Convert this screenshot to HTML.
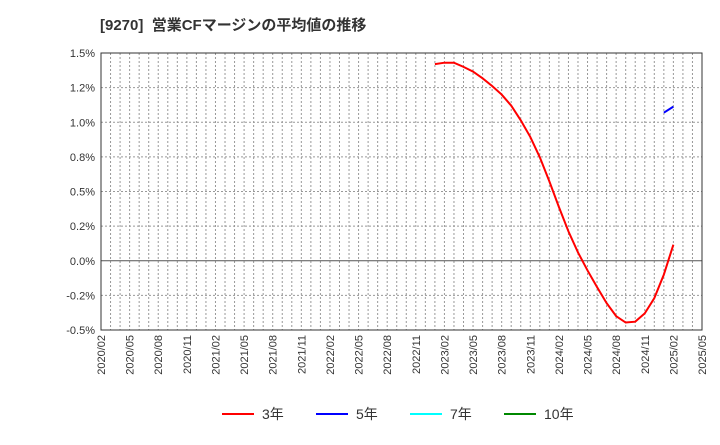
<!DOCTYPE html>
<html><head><meta charset="utf-8"><style>
body{margin:0;background:#fff;font-family:"Liberation Sans","Noto Sans CJK JP",sans-serif}
svg text{font-family:"Liberation Sans","Noto Sans CJK JP",sans-serif}
</style></head><body>
<svg id="c" width="720" height="440">
<text x="100" y="30" font-size="15" font-weight="bold" fill="#333">[9270]&#160;&#160;営業CFマージンの平均値の推移</text>
<g id="grid"></g><g id="axes"></g><g id="series"></g>
<g id="legend"></g>
</svg>
<script>
const yTicks=[-0.5,-0.25,0,0.25,0.5,0.75,1.0,1.25,1.5];
const yTickLabels=["-0.5%","-0.2%","0.0%","0.2%","0.5%","0.8%","1.0%","1.2%","1.5%"];
const xTickLabels=["2020/02","2020/05","2020/08","2020/11","2021/02","2021/05","2021/08","2021/11","2022/02","2022/05","2022/08","2022/11","2023/02","2023/05","2023/08","2023/11","2024/02","2024/05","2024/08","2024/11","2025/02","2025/05"];
const months3=[35,36,37,38,39,40,41,42,43,44,45,46,47,48,49,50,51,52,53,54,55,56,57,58,59,60];
const values3=[1.42,1.43,1.43,1.40,1.366,1.317,1.262,1.20,1.12,1.014,0.894,0.747,0.573,0.388,0.212,0.06,-0.07,-0.19,-0.306,-0.40,-0.446,-0.44,-0.38,-0.27,-0.10,0.116];
const months5=[59,60];
const values5=[1.069,1.113];
const L=101,R=702,T=53,B=330,NM=63;
const X=m=>L+(R-L)*m/NM;
const Y=v=>B-(B-T)*(v+0.5)/2.0;
const NS="http://www.w3.org/2000/svg";
function mk(tag,attrs,parent,txt){const e=document.createElementNS(NS,tag);for(const k in attrs)e.setAttribute(k,attrs[k]);if(txt!==undefined)e.textContent=txt;parent.appendChild(e);return e;}
const grid=document.getElementById('grid'),axes=document.getElementById('axes'),ser=document.getElementById('series'),leg=document.getElementById('legend');
for(let m=1;m<NM;m++){const l=mk('line',{x1:X(m),x2:X(m),y1:T,y2:B,stroke:'#999','stroke-dasharray':'2,2','stroke-width':1},grid);

}
yTicks.forEach((v,i)=>{const zero=v===0;const l=mk('line',{x1:L,x2:R,y1:Y(v),y2:Y(v),stroke:zero?'#555':'#999','stroke-dasharray':zero?'':'2,2','stroke-width':1},grid);


const t=mk('text',{x:L-6,y:Y(v)+4,'text-anchor':'end','font-size':11,fill:'#333'},axes,yTickLabels[i]);

});
xTickLabels.forEach((s,i)=>{const x=X(i*3);const t=mk('text',{x:0,y:0,transform:`translate(${x+4},${B+5}) rotate(-90)`,'text-anchor':'end','font-size':11,fill:'#333'},axes,s);

});
const fr=mk('rect',{x:L,y:T,width:R-L,height:B-T,fill:'none',stroke:'#333','stroke-width':1},axes);


function line(ms,vs,col,name){const p=mk('polyline',{points:ms.map((m,i)=>X(m)+','+Y(vs[i])).join(' '),fill:'none',stroke:col,'stroke-width':2},ser);

}
line(months3,values3,'#f00','series-3y');
line(months5,values5,'#00f','series-5y');
const legItems=[["3年","#f00",222],["5年","#00f",316],["7年","#0ff",410],["10年","#080",504]];
legItems.forEach(([n,c,x])=>{const g=mk('g',{},leg);


mk('line',{x1:x,x2:x+32,y1:414,y2:414,stroke:c,'stroke-width':2},g);
mk('text',{x:x+40,y:419,'font-size':14,fill:'#333'},g,n);});
</script>
</body></html>
